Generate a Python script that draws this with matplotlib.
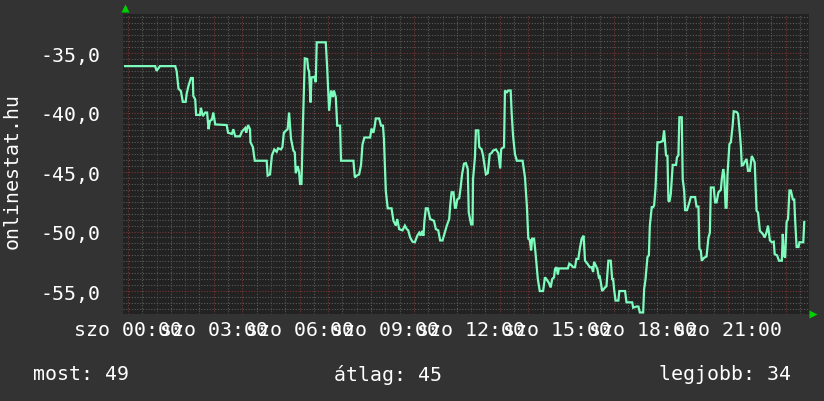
import numpy as np
import matplotlib
matplotlib.use('Agg')
import matplotlib.pyplot as plt

# minutes since midnight (saturday) and measured value
minutes = [-6, 57, 60, 67, 99, 102, 106, 111, 115, 121, 123, 127, 132, 136, 137, 141,
           143, 151, 153, 157, 162, 166, 169, 172, 176, 179, 183, 207, 210, 218, 221, 225,
           235, 239, 246, 248, 252, 256, 257, 262, 266, 291, 293, 298, 302, 307, 312, 315,
           321, 324, 327, 332, 335, 338, 342, 347, 350, 352, 356, 359, 361, 364, 367, 371,
           376, 378, 380, 383, 385, 391, 394, 396, 415, 418, 422, 426, 430, 432, 436, 439,
           445, 447, 473, 476, 480, 485, 489, 492, 496, 508, 511, 515, 517, 520, 527, 531,
           535, 537, 541, 545, 553, 557, 562, 565, 569, 576, 581, 585, 588, 592, 597, 602,
           607, 611, 614, 617, 620, 622, 625, 629, 634, 642, 646, 651, 655, 660, 664, 669,
           674, 676, 679, 683, 686, 688, 691, 695, 698, 701, 705, 709, 713, 715, 720, 723,
           724, 728, 730, 735, 737, 742, 745, 751, 755, 759, 763, 766, 772, 777, 781, 783,
           785, 789, 791, 795, 798, 803, 805, 808, 812, 816, 828, 833, 837, 840, 843, 846,
           848, 852, 855, 860, 864, 871, 875, 878, 883, 887, 890, 894, 896, 899, 902, 904,
           923, 926, 931, 934, 938, 941, 945, 948, 952, 956, 959, 964, 969, 973, 976, 978,
           982, 985, 988, 990, 992, 995, 1001, 1004, 1008, 1013, 1016, 1018, 1020, 1023, 1029, 1031,
           1043, 1046, 1058, 1060, 1067, 1071, 1074, 1081, 1083, 1086, 1090, 1093, 1095, 1099, 1102, 1104,
           1107, 1111, 1116, 1122, 1125, 1129, 1132, 1134, 1136, 1139, 1143, 1150, 1152, 1155, 1157, 1162,
           1164, 1167, 1169, 1173, 1178, 1181, 1190, 1193, 1197, 1199, 1202, 1204, 1209, 1214, 1218, 1221,
           1223, 1229, 1232, 1235, 1239, 1244, 1246, 1249, 1251, 1254, 1256, 1258, 1262, 1265, 1269, 1271,
           1277, 1280, 1284, 1286, 1288, 1291, 1294, 1298, 1301, 1305, 1309, 1312, 1315, 1319, 1322, 1326,
           1332, 1336, 1340, 1343, 1347, 1351, 1355, 1357, 1362, 1366, 1372, 1374, 1376, 1379, 1382, 1385,
           1388, 1391, 1395, 1398, 1400, 1403, 1407, 1409, 1417, 1419]
values = [-36.1, -36.1, -36.5, -36.1, -36.1, -36.5, -38.0, -38.2, -39.1, -39.1, -38.45, -37.75, -37.1, -37.1, -38.6, -38.9,
          -40.2, -40.2, -39.6, -40.3, -40.0, -40.0, -41.4, -40.7, -40.6, -40.0, -41.0, -41.05, -41.7, -41.8, -41.4, -42.0,
          -42.0, -41.6, -41.3, -41.7, -41.05, -41.4, -42.5, -42.9, -44.05, -44.05, -45.3, -45.2, -43.6, -43.1, -43.3, -43.0,
          -43.1, -42.9, -41.7, -41.5, -41.4, -40.0, -42.2, -43.2, -43.35, -45.1, -44.5, -45.0, -46.0, -46.0, -41.1, -35.45,
          -35.5, -36.35, -36.5, -39.15, -37.05, -37.0, -37.45, -34.1, -34.1, -36.3, -39.85, -38.15, -38.7, -38.15, -38.7, -41.1,
          -41.1, -44.05, -44.05, -45.45, -45.3, -45.2, -44.4, -42.7, -42.1, -42.1, -41.35, -41.7, -41.3, -40.5, -40.5, -41.1,
          -41.1, -42.2, -46.6, -48.05, -48.05, -49.1, -49.5, -48.95, -49.8, -49.9, -49.5, -49.8, -49.9, -50.5, -50.85, -50.9,
          -50.35, -50.1, -50.35, -49.95, -50.35, -49.1, -48.05, -48.05, -48.95, -49.1, -49.8, -49.9, -50.75, -50.75, -50.2, -49.5,
          -48.95, -47.85, -46.7, -46.7, -48.0, -48.0, -47.3, -47.2, -46.3, -45.2, -44.3, -44.25, -44.75, -48.4, -49.4, -49.4,
          -45.6, -43.75, -41.5, -41.5, -42.9, -43.1, -43.6, -45.2, -45.1, -43.5, -43.4, -43.2, -43.1, -43.4, -44.7, -43.1,
          -43.0, -42.9, -38.15, -38.3, -38.15, -38.15, -40.0, -41.95, -43.5, -44.05, -44.05, -45.45, -47.85, -50.6, -50.7, -51.6,
          -50.6, -50.6, -51.75, -54.0, -55.0, -55.0, -53.85, -54.0, -54.3, -54.7, -54.0, -53.85, -53.15, -53.0, -53.6, -53.1,
          -53.1, -52.7, -52.85, -53.0, -53.0, -52.3, -52.3, -51.45, -50.6, -50.35, -52.45, -52.7, -53.0, -53.0, -53.4, -52.55,
          -52.9, -53.15, -53.85, -53.8, -54.25, -55.0, -54.7, -54.6, -52.45, -52.45, -54.0, -54.0, -54.85, -55.8, -55.8, -55.0,
          -55.0, -55.95, -55.95, -56.4, -56.3, -56.3, -56.8, -56.8, -54.85, -54.0, -52.15, -52.0, -49.5, -47.95, -47.95, -47.8,
          -46.3, -42.5, -42.5, -42.4, -41.5, -43.6, -43.65, -47.4, -47.5, -46.85, -44.4, -44.4, -43.75, -43.6, -40.4, -40.4,
          -45.6, -46.55, -48.2, -48.2, -47.55, -47.1, -47.1, -47.9, -47.9, -51.45, -51.6, -52.45, -52.2, -52.1, -50.5, -50.1,
          -46.3, -46.3, -47.55, -47.55, -46.7, -46.5, -45.6, -44.75, -45.2, -48.0, -48.0, -45.2, -42.65, -42.5, -41.0, -39.9,
          -39.95, -40.1, -41.8, -42.8, -44.45, -44.4, -44.15, -43.9, -44.9, -44.9, -43.65, -43.9, -44.2, -48.25, -48.4, -49.95,
          -50.2, -50.5, -50.05, -49.5, -50.75, -50.9, -50.85, -51.9, -52.0, -52.45, -52.45, -50.2, -52.0, -52.2, -49.2, -48.95,
          -46.55, -46.55, -47.3, -47.3, -49.1, -51.3, -51.3, -50.9, -50.9, -49.2]

y_ticks = [-35, -40, -45, -50, -55]
hour_labels = ['szo 00:00', 'szo 03:00', 'szo 06:00', 'szo 09:00',
               'szo 12:00', 'szo 15:00', 'szo 18:00', 'szo 21:00']
y_title = 'onlinestat.hu'
summary = ['most: 49', 'átlag: 45', 'legjobb: 34']

BG = '#333333'
CANVAS = '#222222'
LINE = '#7dfcbd'
MINOR = '#5a5a5a'
MAJOR = '#7a3434'
FONT = 'DejaVu Sans Mono'
FS = 14.3

fig = plt.figure(figsize=(8.24, 4.02), dpi=100, facecolor=BG)
ax = fig.add_axes([123 / 824, 87 / 402, 686 / 824, 300 / 402])
ax.set_facecolor(CANVAS)
ax.set_xlim(-10.5, 1429)
ax.set_ylim(-56.93, -31.72)

# grid: minor every 30 min / 0.5, major every hour / 5
for m in np.arange(0, 1429, 30):
    col = MAJOR if m % 60 == 0 else MINOR
    ax.axvline(m, color=col, lw=0.8, ls=(0, (1, 1.5)), zorder=1)
for v in np.arange(-56.5, -31.7, 0.5):
    col = MAJOR if abs(v % 5) < 1e-6 else MINOR
    ax.axhline(v, color=col, lw=0.8, ls=(0, (1, 1.5)), zorder=1)

ax.plot(minutes, values, color=LINE, lw=1.6, zorder=3, solid_joinstyle='miter')

for s in ax.spines.values():
    s.set_visible(False)
ax.tick_params(length=0)

ax.set_yticks(y_ticks)
ax.set_yticklabels(['%d,0' % t for t in y_ticks], family=FONT, fontsize=FS, color='white')
ax.tick_params(axis='y', pad=16)

ax.set_xticks([i * 180 for i in range(len(hour_labels))])
ax.set_xticklabels(hour_labels, family=FONT, fontsize=FS, color='white')
ax.tick_params(axis='x', pad=4)

fig.text(12 / 824, 1 - 171 / 402, y_title, rotation=90, family=FONT, fontsize=FS,
         color='white', ha='center', va='center')

fig.text(33 / 824, 1 - 375 / 402, summary[0], family=FONT, fontsize=FS, color='white', va='center')
fig.text(334 / 824, 1 - 375 / 402, summary[1], family=FONT, fontsize=FS, color='white', va='center')
fig.text(791 / 824, 1 - 375 / 402, summary[2], family=FONT, fontsize=FS, color='white', va='center', ha='right')

# little green arrows at axis ends
ax.plot([2 / 686], [1 + 6 / 300], marker='^', ms=6, color='#00d000', mec='none',
        transform=ax.transAxes, clip_on=False)
ax.plot([1 + 4 / 686], [0], marker='>', ms=6, color='#00d000', mec='none',
        transform=ax.transAxes, clip_on=False)

fig.savefig('out.png', dpi=100, facecolor=BG)
